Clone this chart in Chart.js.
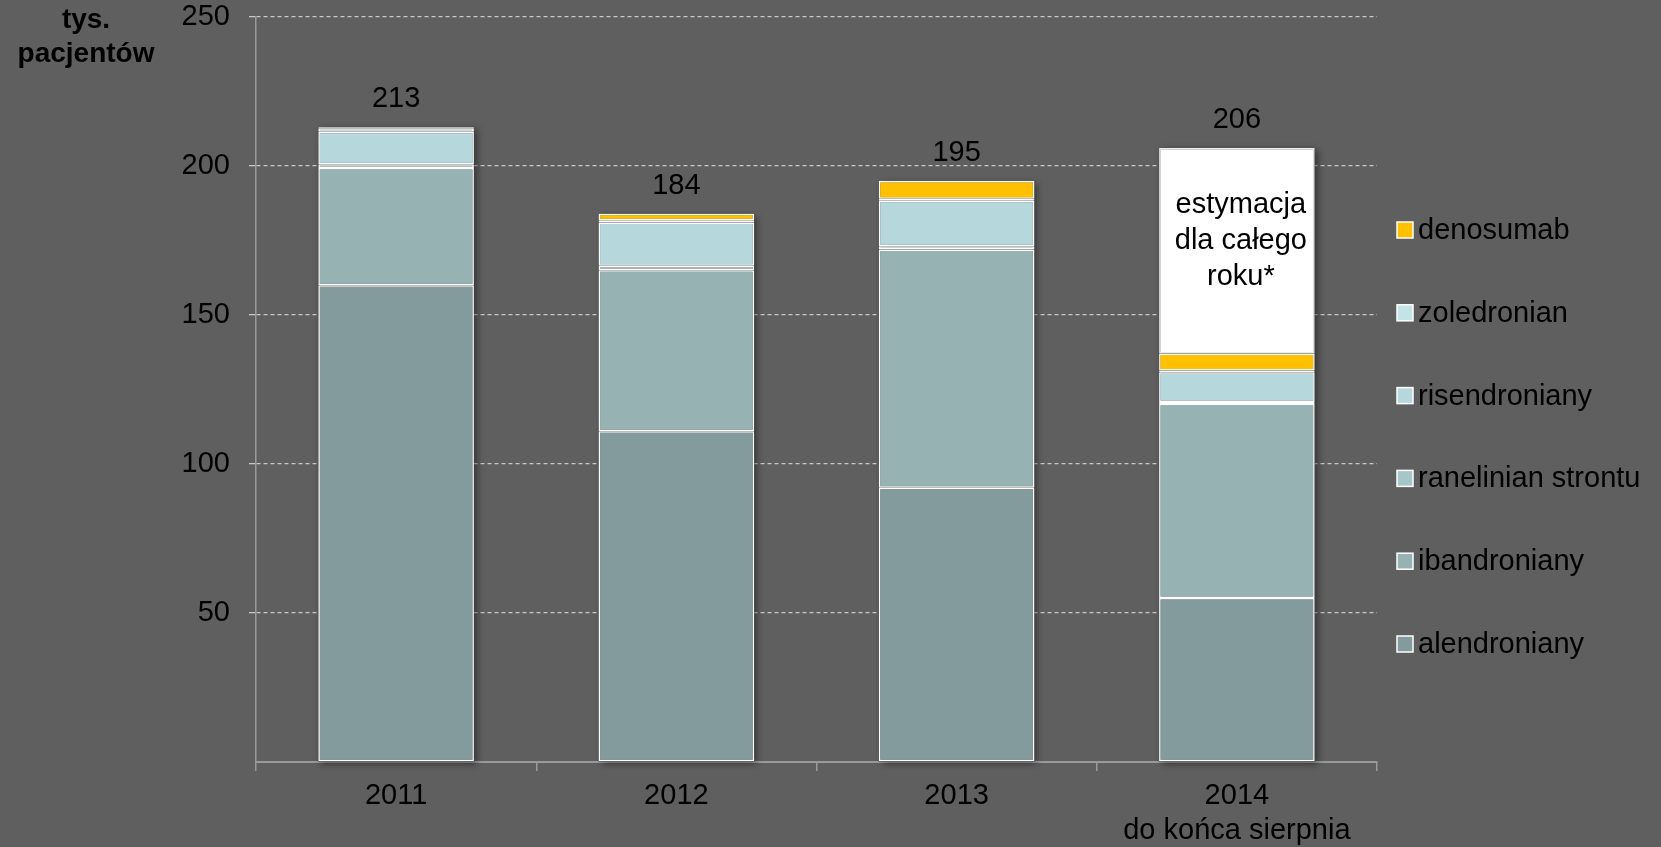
<!DOCTYPE html>
<html>
<head>
<meta charset="utf-8">
<script src="https://cdn.jsdelivr.net/npm/chart.js@4"></script>
<style>
  html, body { margin: 0; padding: 0; background: #5f5f5f; }
  #wrap { width: 1661px; height: 847px; position: relative; }
</style>
</head>
<body>
<div id="wrap"><canvas id="chart" width="1661" height="847"></canvas></div>
<script>
// Years on the x axis (second line under 2014)
const years = ["2011", "2012", "2013", ["2014", "do końca sierpnia"]];

// Patients in thousands, per drug
const alendroniany = [160, 111, 92, 55];
const ibandroniany = [39.3, 54, 80, 65.1];
const ranelinianStrontu = [1.3, 1.5, 1.1, 0.7];
const risendroniany = [10.9, 14.5, 15.2, 10.0];
const zoledronian = [1.2, 0.8, 0.7, 0.6];
const denosumab = [0.3, 2.2, 6.0, 5.7];
// rest of 2014 projected for the full year
const estymacja = [null, null, null, 68.9];

const yTicks = [50, 100, 150, 200, 250];

const FONT = "'Liberation Sans', Arial, sans-serif";
const ctx = document.getElementById("chart").getContext("2d");

const mkSet = (label, data, color) => ({
  label, data,
  backgroundColor: color,
  borderColor: "#ffffff",
  borderWidth: 1.5,
  borderSkipped: false,
  barPercentage: 0.555,
  categoryPercentage: 1,
});

const datasets = [
  mkSet("alendroniany", alendroniany, "#839b9d"),
  mkSet("ibandroniany", ibandroniany, "#96b2b3"),
  mkSet("ranelinian strontu", ranelinianStrontu, "#a7c6c8"),
  mkSet("risendroniany", risendroniany, "#b6d8dc"),
  mkSet("zoledronian", zoledronian, "#c2e4e7"),
  mkSet("denosumab", denosumab, "#ffc000"),
  Object.assign(mkSet("estymacja", estymacja, "#ffffff"), { borderColor: "#ececec", inLegend: false }),
];

const stackTop = (i) => datasets.reduce((s, d) => s + (d.data[i] || 0), 0);

// soft drop shadow behind each whole stacked bar
const shadowPlugin = {
  id: "barShadow",
  beforeDatasetsDraw(chart) {
    const c = chart.ctx, y = chart.scales.y;
    const meta = chart.getDatasetMeta(0);
    c.save();
    c.shadowColor = "rgba(0,0,0,0.45)";
    c.shadowBlur = 7;
    c.shadowOffsetX = 3;
    c.shadowOffsetY = 2;
    c.fillStyle = "#5f5f5f";
    meta.data.forEach((bar, i) => {
      const top = y.getPixelForValue(stackTop(i));
      c.fillRect(bar.x - bar.width / 2, top, bar.width, y.getPixelForValue(0) - top);
    });
    c.restore();
  }
};

// totals above bars, note inside the estimate block, legend and unit caption
const textPlugin = {
  id: "texts",
  afterDatasetsDraw(chart) {
    const c = chart.ctx, y = chart.scales.y;
    const meta = chart.getDatasetMeta(0);
    c.save();
    c.fillStyle = "#000";
    c.font = "29px " + FONT;
    c.textAlign = "center";
    c.textBaseline = "alphabetic";
    meta.data.forEach((bar, i) => {
      const total = stackTop(i);
      c.fillText(String(Math.round(total)), bar.x, y.getPixelForValue(total) - 20);
    });

    const est = chart.getDatasetMeta(datasets.length - 1).data[3];
    const mid = (est.y + est.base) / 2;
    ["estymacja", "dla całego", "roku*"].forEach((t, k) => {
      c.fillText(t, est.x + 4, mid + (k - 1) * 36 - 2);
    });

    // legend, top item = last drug series
    const items = datasets.filter(d => d.inLegend !== false).slice().reverse();
    c.textAlign = "left";
    c.textBaseline = "middle";
    items.forEach((d, k) => {
      const cy = 230 + k * 82.8;
      c.fillStyle = d.backgroundColor;
      c.fillRect(1397, cy - 8, 16, 16);
      c.strokeStyle = "#ffffff";
      c.lineWidth = 1.5;
      c.strokeRect(1397, cy - 8, 16, 16);
      c.fillStyle = "#000";
      c.fillText(d.label, 1418, cy + 1);
    });

    c.font = "bold 28px " + FONT;
    c.textAlign = "center";
    c.textBaseline = "alphabetic";
    c.fillText("tys.", 86, 28);
    c.fillText("pacjentów", 86, 62);
    c.restore();
  }
};

new Chart(ctx, {
  type: "bar",
  data: { labels: years, datasets },
  options: {
    responsive: false,
    animation: false,
    layout: { padding: { left: 0, right: 284, top: 17, bottom: 0 } },
    plugins: { legend: { display: false }, tooltip: { enabled: false } },
    scales: {
      x: {
        stacked: true,
        afterFit: (s) => { s.height = 85; s.paddingLeft = 0; s.paddingRight = 0; },
        grid: { display: true, offset: true, drawOnChartArea: false, drawTicks: true, tickLength: 9, color: "#9a9a9a", lineWidth: 1.5 },
        border: { display: true, color: "#9a9a9a", width: 2 },
        ticks: { color: "#000", font: { family: FONT, size: 29 }, padding: 8, maxRotation: 0 },
      },
      y: {
        stacked: true,
        min: 0,
        max: 250,
        afterFit: (s) => { s.width = 256; s.paddingTop = 0; s.paddingBottom = 0; },
        afterBuildTicks: (s) => { s.ticks = [0].concat(yTicks).map(v => ({ value: v })); },
        grid: {
          color: (c) => (c.tick && c.tick.value === 0 ? "rgba(0,0,0,0)" : "#c8c8c8"),
          lineWidth: 1.3,
          tickLength: 7,
        },
        border: { display: true, color: "#9a9a9a", width: 1.5, dash: [4, 3] },
        ticks: {
          color: "#000",
          font: { family: FONT, size: 29 },
          padding: 19,
          callback: (v) => (v === 0 ? "" : v),
        },
      },
    },
  },
  plugins: [shadowPlugin, textPlugin],
});
</script>
</body>
</html>
